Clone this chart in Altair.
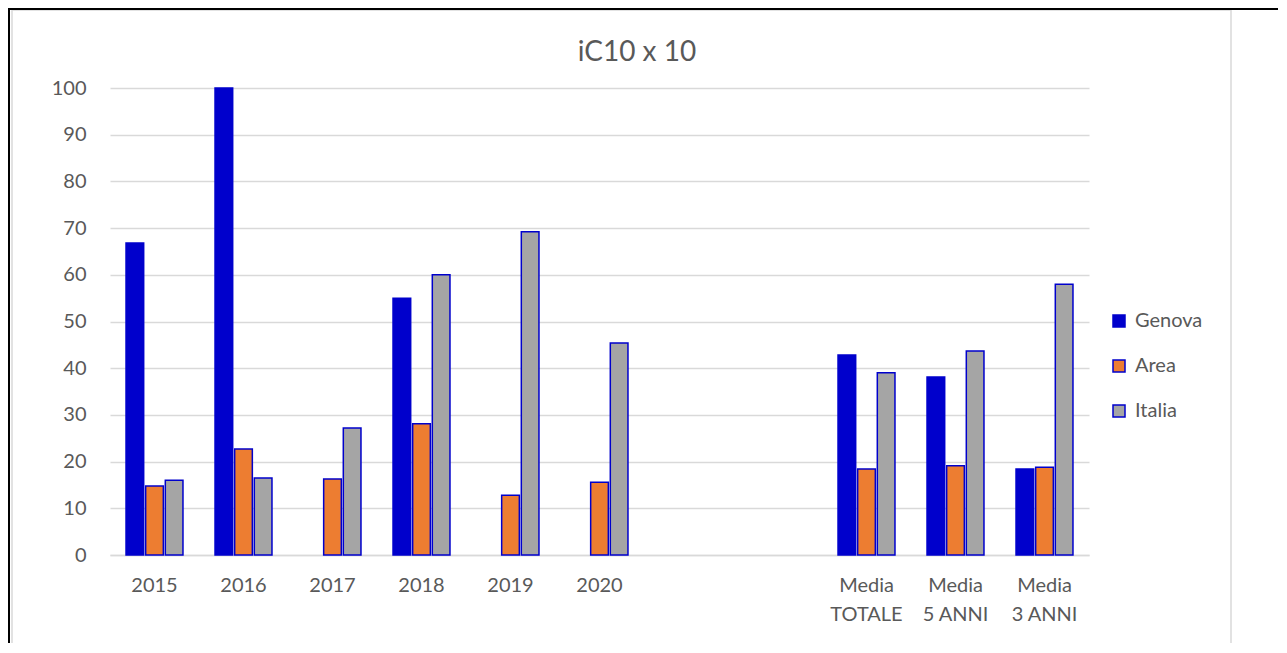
import altair as alt
import pandas as pd

categories = ["2015", "2016", "2017", "2018", "2019", "2020", "_a", "_b",
              "Media TOTALE", "Media 5 ANNI", "Media 3 ANNI"]
series = ["Genova", "Area", "Italia"]
genova = [66.8, 100.0, None, 55.0, None, None, None, None, 42.8, 38.1, 18.4]
area = [14.8, 22.7, 16.3, 28.1, 12.8, 15.6, None, None, 18.4, 19.1, 18.8]
italia = [16.0, 16.5, 27.2, 60.0, 69.2, 45.4, None, None, 39.0, 43.7, 58.0]
colors = ["#0000CC", "#ED7D31", "#A5A5A5"]
title_text = "iC10 x 10"

rows = []
for name, vals in zip(series, [genova, area, italia]):
    for c, v in zip(categories, vals):
        if v is not None:
            rows.append({"cat": c, "serie": name, "val": v})
df = pd.DataFrame(rows)

W, H = 979, 467
FONT = "Lato"
GREY = "#595959"

label_expr = ("substring(datum.value,0,1)=='_' ? '' : "
              "(substring(datum.value,0,5)=='Media' ? ['Media', substring(datum.value,6)] : datum.value)")

bars = alt.Chart(df).mark_bar(stroke="#0000CC", strokeWidth=1.5).encode(
    x=alt.X("cat:N", sort=categories,
            scale=alt.Scale(domain=categories, paddingInner=0.36, paddingOuter=0.18),
            axis=alt.Axis(title=None, labelAngle=0, labelExpr=label_expr, ticks=False,
                          domainColor="#D9D9D9", domainWidth=1.5, labelPadding=20,
                          labelFontSize=20, labelColor=GREY, labelFont=FONT,
                          labelLineHeight=29, labelBaseline="top", grid=False)),
    xOffset=alt.XOffset("serie:N", sort=series,
                        scale=alt.Scale(domain=series, paddingInner=0.1)),
    y=alt.Y("val:Q", scale=alt.Scale(domain=[0, 100], nice=False),
            axis=alt.Axis(title=None, values=list(range(0, 101, 10)), domain=False, ticks=False,
                          gridColor="#D9D9D9", gridWidth=1.5, labelPadding=24,
                          labelFontSize=20, labelColor=GREY, labelFont=FONT)),
    fill=alt.Fill("serie:N", sort=series,
                  scale=alt.Scale(domain=series, range=colors),
                  legend=alt.Legend(title=None, orient="none", legendX=999, legendY=223,
                                    symbolType="square", symbolSize=144,
                                    symbolStrokeColor="#0000CC", symbolStrokeWidth=1.5,
                                    labelFontSize=20, labelColor=GREY, labelFont=FONT,
                                    labelOffset=6, rowPadding=25)),
)

title = alt.Chart(pd.DataFrame({"t": [title_text]})).mark_text(
    fontSize=28, font=FONT, color=GREY, align="center", baseline="middle"
).encode(x=alt.value(527), y=alt.value(-35), text="t:N")

frame = alt.Chart(pd.DataFrame({"k": [0]})).mark_rule(color="#D9D9D9", strokeWidth=1.5).encode(
    x=alt.value(-98), x2=alt.value(1121), y=alt.value(-78)
)
frame_l = alt.Chart(pd.DataFrame({"k": [0]})).mark_rule(color="#D9D9D9", strokeWidth=1.5).encode(
    x=alt.value(-98), y=alt.value(-78), y2=alt.value(600)
)
frame_r = alt.Chart(pd.DataFrame({"k": [0]})).mark_rule(color="#D9D9D9", strokeWidth=1.5).encode(
    x=alt.value(1121), y=alt.value(-78), y2=alt.value(600)
)
black_top = alt.Chart(pd.DataFrame({"k": [0]})).mark_rule(color="#000000", strokeWidth=2).encode(
    x=alt.value(-102), x2=alt.value(1200), y=alt.value(-79)
)
black_left = alt.Chart(pd.DataFrame({"k": [0]})).mark_rule(color="#000000", strokeWidth=2).encode(
    x=alt.value(-101), y=alt.value(-80), y2=alt.value(600)
)

chart = alt.layer(frame, frame_l, frame_r, black_top, black_left, bars, title).properties(
    width=W, height=H,
    autosize=alt.AutoSizeParams(type="none"),
    padding={"left": 102, "top": 80, "right": 189, "bottom": 88},
).configure_view(stroke=None)

chart.save("out.html", embed_options={"renderer": "svg", "actions": False})
